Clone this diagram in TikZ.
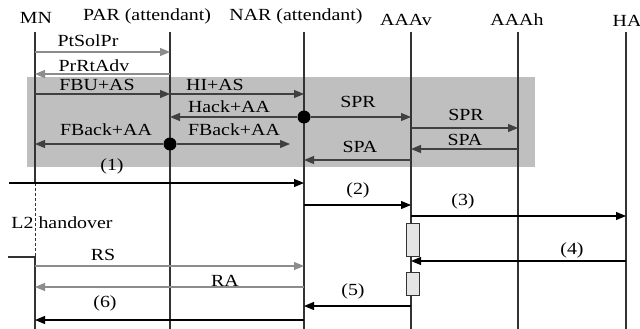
\documentclass[tikz,border=0pt]{standalone}
\usepackage{fontspec}
\setmainfont{Liberation Serif}[FakeStretch=1.17]
\usetikzlibrary{arrows.meta}
\begin{document}
\begin{tikzpicture}[x=1pt,y=-1pt,line join=miter,
  every node/.style={inner sep=0pt,anchor=base,font=\fontsize{17}{20}\selectfont},
  life/.style={line width=1.1pt,draw=black!80},
  msg/.style={line width=1.1pt,-{Triangle[length=10pt,width=8pt]}},
  plain/.style={msg,draw=black},
  dark/.style={msg,draw=black!75},
  pale/.style={msg,draw=black!45},
  dot/.style={circle,fill=black,minimum size=13pt,anchor=center},
  proc/.style={draw=black!80,fill=black!10,line width=1pt,minimum width=13pt,minimum height=33pt,anchor=center}]
  \useasboundingbox (0,0) rectangle (640,329);
  \fill[black!25] (27,77) rectangle (535,167);
  \coordinate (mn) at (35,32);
  \foreach \n/\x in {par/170,nar/304,aaav/411,aaah/518,ha/626}{
    \coordinate (\n) at (\x,32);
    \draw[life] (\n) -- (\x,329);
  }
  \coordinate (hostart) at (9,183);
  \coordinate (hoend) at (8,257);
  \draw[life] (mn) -- (mn |- hostart);
  \draw[life,line width=0.8pt,dashed,dash pattern=on 3pt off 2pt] (mn |- hostart) -- (mn |- hoend);
  \draw[life] (hoend) -- (mn |- hoend) -- (mn |- 0,329);
  \node (mnlbl) at (36,24) {MN};
  \node (parlbl) at (147,21) {PAR (attendant)};
  \node (narlbl) at (296,21) {NAR (attendant)};
  \node (aaavlbl) at (406,26) {AAAv};
  \node (aaahlbl) at (517,26) {AAAh};
  \node (halbl) at (627,27) {HA};
  \draw[pale] (mn |- 0,52) -- (par |- 0,52);
  \node (ptsolpr) at (88,47) {PtSolPr};
  \draw[pale] (par |- 0,74) -- (mn |- 0,74);
  \node (prrtadv) at (94,71) {PrRtAdv};
  \draw[dark] (mn |- 0,94) -- (par |- 0,94);
  \node (fbu) at (97,90) {FBU+AS};
  \draw[dark] (par |- 0,94) -- (nar |- 0,94);
  \node (hi) at (215,90) {HI+AS};
  \node[dot] (hackdot) at (nar |- 0,117) {};
  \draw[dark] (hackdot) -- (par |- hackdot);
  \node (hack) at (229,112) {Hack+AA};
  \draw[dark] (hackdot) -- (aaav |- hackdot);
  \node (spr1) at (358,107) {SPR};
  \draw[dark] (aaav |- 0,128) -- (aaah |- 0,128);
  \node (spr2) at (466,120) {SPR};
  \draw[dark] (aaah |- 0,149) -- (aaav |- 0,149);
  \node (spa2) at (465,145) {SPA};
  \draw[dark] (aaav |- 0,160) -- (nar |- 0,160);
  \node (spa1) at (360,152) {SPA};
  \node[dot] (fbackdot) at (par |- 0,144) {};
  \draw[dark] (fbackdot) -- (mn |- fbackdot);
  \draw[dark] (fbackdot) -- (290,144);
  \node (fbackl) at (106,135) {FBack+AA};
  \node (fbackr) at (234,135) {FBack+AA};
  \draw[plain] (hostart) -- (nar |- hostart);
  \node (m1) at (112,170) {(1)};
  \draw[plain] (nar |- 0,205) -- (aaav |- 0,205);
  \node (m2) at (358,194) {(2)};
  \draw[plain] (aaav |- 0,216) -- (ha |- 0,216);
  \node (m3) at (463,205) {(3)};
  \node[proc] (proc1) at ([xshift=1.5pt]aaav |- 0,239.5) {};
  \node[proc,minimum height=23pt] (proc2) at ([xshift=1.5pt]aaav |- 0,283.5) {};
  \draw[plain] (ha |- 0,261) -- (aaav |- 0,261);
  \node (m4) at (572,254) {(4)};
  \node (l2ho) at (62,228) {L2 handover};
  \draw[pale] (mn |- 0,266) -- (nar |- 0,266);
  \node (rs) at (103,260) {RS};
  \draw[pale] (nar |- 0,287) -- (mn |- 0,287);
  \node (ra) at (225,286) {RA};
  \draw[plain] (aaav |- 0,306) -- (nar |- 0,306);
  \node (m5) at (353,295) {(5)};
  \draw[plain] (nar |- 0,320) -- (mn |- 0,320);
  \node (m6) at (105,307) {(6)};
\end{tikzpicture}
\end{document}
